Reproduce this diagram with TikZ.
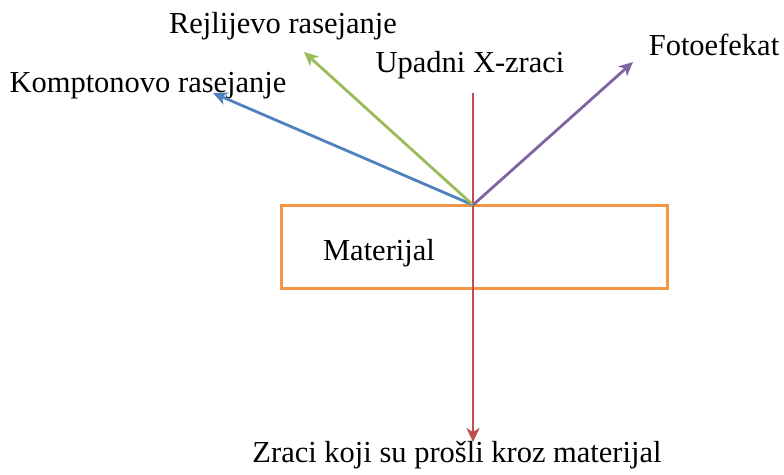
\documentclass[tikz,border=0pt]{standalone}
\usepackage{fontspec}
\setmainfont{Liberation Serif}
\usetikzlibrary{arrows.meta}
\definecolor{rayRed}{RGB}{192,80,77}
\definecolor{rayBlue}{RGB}{79,129,189}
\definecolor{rayGreen}{RGB}{155,187,89}
\definecolor{rayPurple}{RGB}{128,100,162}
\definecolor{matOrange}{RGB}{247,150,70}

\begin{document}
\begin{tikzpicture}[x=1pt,y=-1pt,
  ray/.style={line width=2.8pt,-{Stealth[length=14pt,width=13pt,inset=4pt]}},
  lbl/.style={font=\fontsize{30.5}{36}\selectfont,inner sep=0pt}]
  \useasboundingbox (0,0) rectangle (784,474);
  % Material
  \node[draw=matOrange,line width=3pt,minimum width=386pt,minimum height=83pt,inner sep=0pt] (mat) at (474,246.5) {};
  \node[lbl] (matLbl) at (379,253) {Materijal};
  \coordinate (hit) at (473,205);
  % Incident and transmitted rays
  \node[lbl] (upadni) at (470,65) {Upadni X-zraci};
  \node[lbl] (prosli) at (457,455) {Zraci koji su prošli kroz materijal};
  \coordinate (rayTop) at (473,93);
  \coordinate (rayEnd) at (473,442);
  \draw[ray,rayRed] (rayTop) -- (rayEnd);
  % Scattered rays
  \node[lbl] (rejli) at (283,26) {Rejlijevo rasejanje};
  \node[lbl] (kompt) at (148,86) {Komptonovo rasejanje};
  \node[lbl] (foto) at (714,45) {Fotoefekat};
  \coordinate (komptEnd) at (213,93);
  \coordinate (rejliEnd) at (304,52);
  \coordinate (fotoEnd) at (633,62);
  \draw[ray,rayBlue] (hit) -- (komptEnd);
  \draw[ray,rayGreen] (hit) -- (rejliEnd);
  \draw[ray,rayPurple] (hit) -- (fotoEnd);
\end{tikzpicture}
\end{document}
